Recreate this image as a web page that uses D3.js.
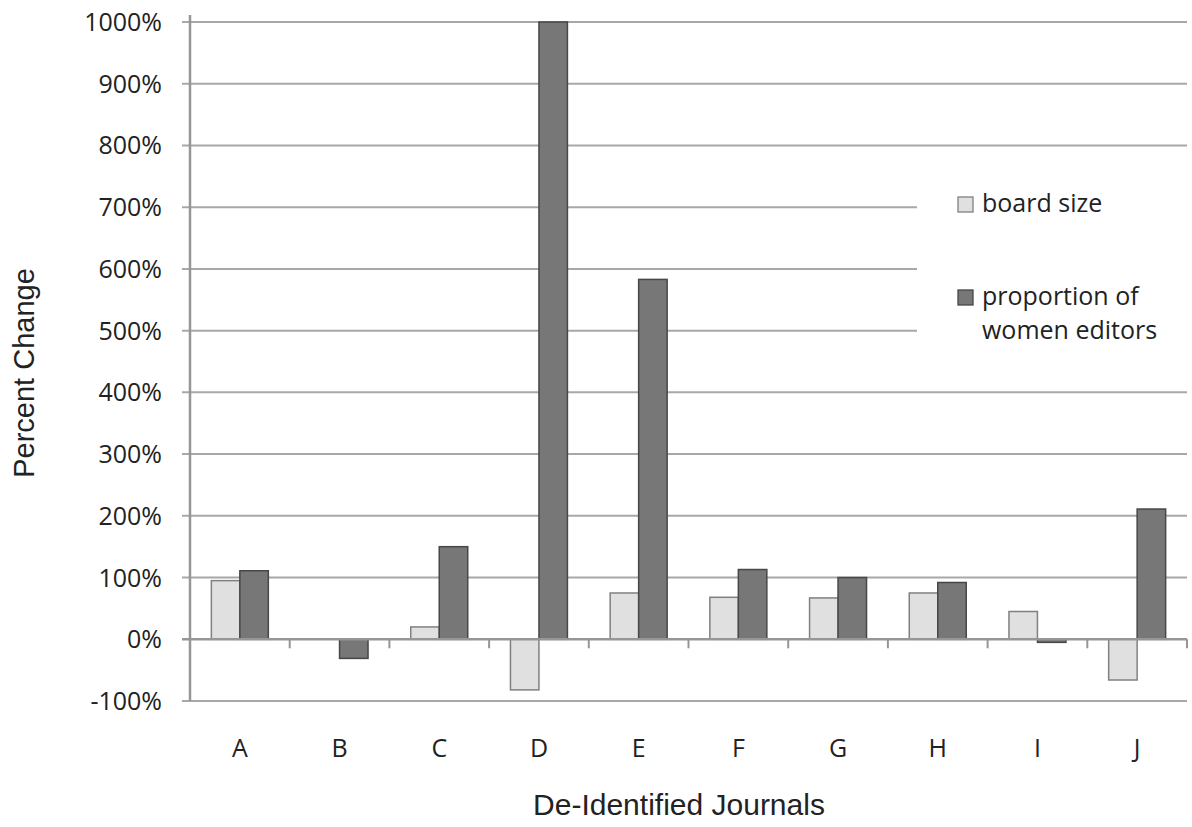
<!DOCTYPE html>
<html>
<head>
<meta charset="utf-8">
<script src="https://cdn.jsdelivr.net/npm/d3@7"></script>
<style>
  html, body { margin: 0; padding: 0; background: #fff; }
  svg { display: block; }
</style>
</head>
<body>
<svg id="chart" width="1192" height="827"></svg>
<script>
// Journals (de-identified) and the percent change in each measure
const journals = ["A", "B", "C", "D", "E", "F", "G", "H", "I", "J"];
const seriesNames = ["board size", "proportion of women editors"];
const boardSize = [95, 0, 20, -82, 75, 68, 67, 75, 45, -66];
const womenEditors = [111, -31, 150, 1000, 583, 113, 100, 92, -5, 211];
const yTicks = [-100, 0, 100, 200, 300, 400, 500, 600, 700, 800, 900, 1000];

const svg = d3.select("#chart");
const plot = { left: 190, right: 1187, top: 22, bottom: 701 };

const x0 = d3.scaleBand().domain(journals).range([plot.left, plot.right]).padding(0);
const x1 = d3.scaleBand().domain(seriesNames)
  .range([0, x0.bandwidth()]).paddingInner(0).paddingOuter(0.75);
const y = d3.scaleLinear().domain([-100, 1000]).range([plot.bottom, plot.top]);

const fills = { "board size": "#e0e0e0", "proportion of women editors": "#777777" };
const strokes = { "board size": "#808080", "proportion of women editors": "#474747" };
const tickFont = "'Open Sans', 'DejaVu Sans', sans-serif";
const titleFont = "'Liberation Sans', Arial, sans-serif";
const pct = d => `${d}%`;

// horizontal gridlines (with the short outside tick on the left)
svg.append("g").selectAll("line").data(yTicks.filter(d => d !== 0)).join("line")
  .attr("x1", plot.left - 8).attr("x2", plot.right)
  .attr("y1", d => y(d)).attr("y2", d => y(d))
  .attr("stroke", "#a8a8a8").attr("stroke-width", 2);

// y tick labels
svg.append("g").selectAll("text").data(yTicks).join("text")
  .attr("x", 162).attr("y", d => y(d)).attr("dy", "0.36em")
  .attr("text-anchor", "end")
  .attr("font-family", tickFont).attr("font-size", 25)
  .attr("fill", "#222")
  .text(pct);

// bars
const rows = journals.map((j, i) => ({ j, values: [
  { name: seriesNames[0], v: boardSize[i] },
  { name: seriesNames[1], v: womenEditors[i] }
]}));

const groups = svg.append("g").selectAll("g").data(rows).join("g")
  .attr("transform", d => `translate(${x0(d.j)},0)`);

groups.selectAll("rect").data(d => d.values.filter(e => e.v !== 0)).join("rect")
  .attr("x", d => x1(d.name))
  .attr("width", x1.bandwidth())
  .attr("y", d => y(Math.max(0, d.v)))
  .attr("height", d => Math.abs(y(d.v) - y(0)))
  .attr("fill", d => fills[d.name])
  .attr("stroke", d => strokes[d.name])
  .attr("stroke-width", 1.5);

// legend box (white backing hides the gridlines behind it)
const legend = svg.append("g");
legend.append("rect")
  .attr("x", 917).attr("y", 172).attr("width", 275).attr("height", 190)
  .attr("fill", "#fff");
const legendItems = [
  { name: seriesNames[0], y: 197, lines: ["board size"] },
  { name: seriesNames[1], y: 290, lines: ["proportion of", "women editors"] }
];
legendItems.forEach(item => {
  legend.append("rect")
    .attr("x", 958).attr("y", item.y).attr("width", 15).attr("height", 15)
    .attr("fill", fills[item.name]).attr("stroke", strokes[item.name]).attr("stroke-width", 1.3);
  item.lines.forEach((t, k) => {
    legend.append("text")
      .attr("x", 982).attr("y", item.y + 15 + k * 34)
      .attr("font-family", tickFont).attr("font-size", 25)
      .attr("fill", "#222").text(t);
  });
});

// x axis along 0% with downward ticks at band boundaries
const xAxisY = y(0);
svg.append("line")
  .attr("x1", plot.left - 8).attr("x2", plot.right)
  .attr("y1", xAxisY).attr("y2", xAxisY)
  .attr("stroke", "#969696").attr("stroke-width", 2.5);
const boundaries = journals.map(j => x0(j)).concat([plot.right]);
svg.append("g").selectAll("line").data(boundaries.slice(1)).join("line")
  .attr("x1", d => d).attr("x2", d => d)
  .attr("y1", xAxisY).attr("y2", xAxisY + 9)
  .attr("stroke", "#969696").attr("stroke-width", 2);

// y axis line
svg.append("line")
  .attr("x1", plot.left).attr("x2", plot.left)
  .attr("y1", 15).attr("y2", plot.bottom)
  .attr("stroke", "#969696").attr("stroke-width", 2.5);

// category labels
svg.append("g").selectAll("text").data(journals).join("text")
  .attr("x", d => x0(d) + x0.bandwidth() / 2).attr("y", 757)
  .attr("text-anchor", "middle")
  .attr("font-family", tickFont).attr("font-size", 25)
  .attr("fill", "#222").text(d => d);

// axis titles
svg.append("text")
  .attr("x", 679).attr("y", 815).attr("text-anchor", "middle")
  .attr("font-family", titleFont).attr("font-size", 30)
  .attr("fill", "#222").text("De-Identified Journals");

svg.append("text")
  .attr("transform", "translate(34,373) rotate(-90)")
  .attr("text-anchor", "middle")
  .attr("font-family", titleFont).attr("font-size", 29)
  .attr("fill", "#222").text("Percent Change");
</script>
</body>
</html>
